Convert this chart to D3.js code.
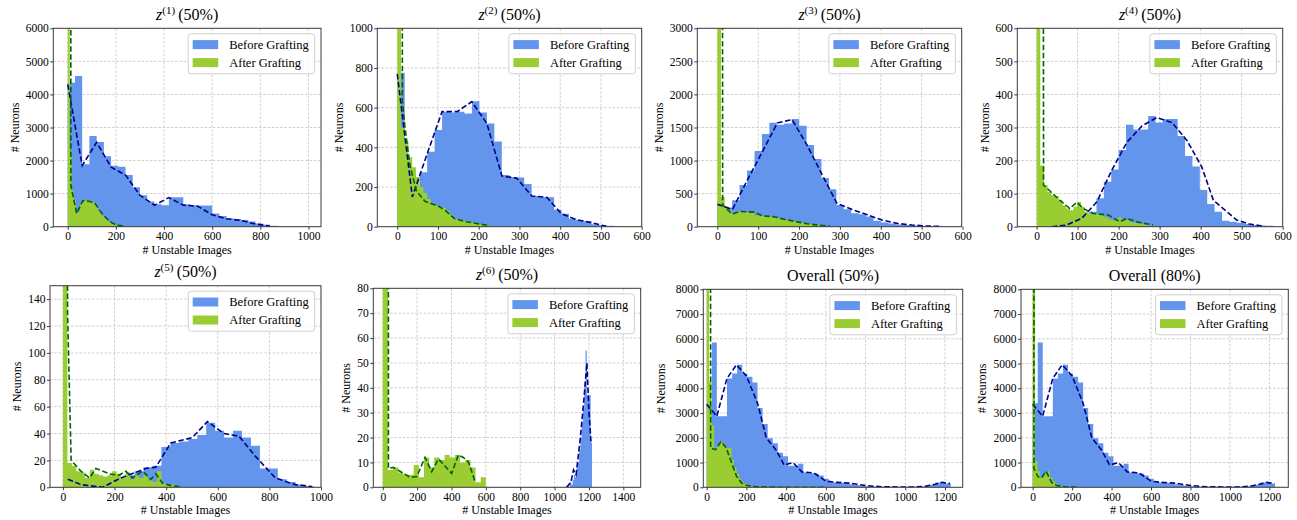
<!DOCTYPE html>
<html><head><meta charset="utf-8">
<script src="https://cdn.jsdelivr.net/npm/d3@7"></script>
<style>
body{margin:0;background:#fff}
svg text{font-family:"Liberation Serif","Times New Roman",serif;fill:#000}
</style>
</head><body>
<svg id="c" width="1297" height="520"></svg>
<script>
// ---------------- DATA ----------------
const seriesNames = ["Before Grafting", "After Grafting"];
const titles = [["z","(1)","(50%)"],["z","(2)","(50%)"],["z","(3)","(50%)"],["z","(4)","(50%)"],
                ["z","(5)","(50%)"],["z","(6)","(50%)"],["Overall (50%)"],["Overall (80%)"]];
const xLabel = "# Unstable Images", yLabel = "# Neurons";

// bins: [first edge, bin width]
const p1BlueBin = [0, 30];
const p1Blue = [4350,4560,1890,2740,2560,2130,1840,1810,1560,1190,950,760,680,650,890,890,680,650,640,640,400,320,250,230,200,160,100,60,30,15];
const p1GreenBin = [0, 8.33];
const p1Green = [30000,2300,1100,800,400,450,650,780,820,780,760,770,760,720,600,480,400,320,260,200,150,110,80,60,40,30,20,10,5];
const p1BlueLine = [[0,4300],[60,1850],[120,2550],[180,1800],[240,1560],[300,950],[360,650],[420,880],[480,650],[540,620],[600,360],[660,240],[720,190],[780,80],[840,20]];
const p1GreenLine = [[11,40000],[13,1250],[37,400],[62,780],[87,770],[112,720],[137,450],[162,250],[187,100],[212,40],[237,10]];

const p2BlueBin = [0, 18.33];
const p2Blue = [776,200,180,275,378,487,580,575,580,570,632,576,520,430,260,250,248,215,155,150,148,85,65,40,33,28,12,8,5,3];
const p2GreenBin = [0, 9.17];
const p2Green = [20000,500,430,350,300,250,200,170,140,120,105,100,95,80,60,40,35,32,28,22,20,15,12,8,6,3];
const p2BlueLine = [[0,770],[37,150],[73,365],[110,580],[147,580],[183,630],[220,520],[257,255],[293,245],[330,155],[367,148],[403,65],[440,35],[477,20],[513,2]];
const p2GreenLine = [[11,20000],[12.5,640],[19,500],[31,310],[47,180],[68,128],[85,115],[100,105],[119,80],[141,40],[170,25],[203,13],[228,5]];

const p3BlueBin = [0, 18.2];
const p3Blue = [330,290,400,630,850,1145,1400,1570,1540,1560,1630,1525,1235,1025,735,565,330,265,205,190,155,90,65,50,35,25,20,12,10,8];
const p3GreenBin = [0, 9.1];
const p3Green = [20000,450,310,240,190,230,225,220,215,210,170,165,165,160,150,135,125,110,100,95,85,70,60,55,45,40,35,25,15,10];
const p3BlueLine = [[0,340],[37,260],[73,700],[110,1130],[147,1570],[183,1620],[220,1230],[257,780],[293,350],[330,260],[367,180],[403,100],[440,50],[477,25],[513,10],[550,5]];
const p3GreenLine = [[11,30000],[13,330],[36,190],[55,230],[90,220],[110,165],[140,150],[165,110],[190,80],[220,45],[250,20],[275,8]];

const p4BlueBin = [2, 18];
const p4Blue = [0,0,2,4,8,15,25,45,86,136,173,232,308,294,294,335,315,326,326,274,214,182,111,69,45,18,15,12,8,5,4,3];
const p4GreenBin = [0, 9];
const p4Green = [20000,185,125,105,95,92,80,65,55,50,60,75,60,45,40,40,38,35,30,25,20,18,28,22,20,15,12,10,8,5,4,3,2];
const p4BlueLine = [[37,0],[73,5],[110,25],[147,75],[183,170],[220,255],[257,305],[293,330],[330,315],[367,260],[403,180],[431,80],[488,20],[520,8],[550,2]];
const p4GreenLine = [[15,3000],[17,126],[57,80],[81,55],[98,74],[114,55],[138,40],[175,35],[203,15],[220,25],[244,15],[284,5]];

const p5BlueBin = [0, 34.7];
const p5Blue = [6,4,1,1,2,4,7,9,12,15,16,30,33,34,36,39,48,42,37,42,37,31,14,14,6,4,2,1];
const p5GreenBin = [0, 17.35];
const p5Green = [300,18,16,12,11,7,13,10,9,8,9,12,10,7,11,6,9,7,9,5,4,12,3,2,2,1];
const p5BlueLine = [[19,6],[70,2],[154,0],[225,7],[322,14],[360,15],[418,33],[502,37],[560,49],[624,40],[682,38],[746,23],[823,7],[900,2],[965,0.5]];
const p5GreenLine = [[13,1000],[18,130],[32,20],[70,12],[103,7],[128,14],[180,10],[218,9],[244,12],[270,7],[309,12],[341,6],[360,10],[386,3],[425,1],[456,0.5]];

const p6BlueBin = [1075, 7.5];
const p6Blue = [1,0,2,1,3,5,4,8,10,15,20,26,32,42,55,37,37,37,18];
const p6GreenBin = [0, 30];
const p6Green = [1000,7,8,6,5,5,9,4,12,8,12,11,13,12,13,10,11,8,2,4];
const p6BlueLine = [[1070,0],[1095,2],[1110,7],[1125,5],[1150,20],[1170,35],[1188,50],[1200,30],[1212,18]];
const p6GreenLine = [[30,1000],[33,7.6],[62,8],[160,4],[198,4.3],[246,12],[285,6.3],[324,11.4],[401,5.6],[440,13],[469,12],[500,10],[537,2.3]];

const overallBlueBin = [0, 25.6];
const overallBlue = [3400,5850,2870,2870,4400,4600,4950,4600,4470,4230,3200,2560,1980,1780,1400,1250,870,870,950,600,570,560,480,350,200,190,180,170,120,90,60,40,30,25,20,20,20,20,20,20,20,25,30,50,100,190,200,150];
const overallBlueLine = [[0,3350],[51,2870],[102,4400],[150,4950],[200,4500],[256,3400],[300,2000],[350,1500],[390,900],[435,1000],[480,620],[540,580],[600,250],[650,200],[720,170],[800,70],[880,20],[960,15],[1040,15],[1100,40],[1150,120],[1185,200],[1225,150]];

const p7GreenBin = [0, 12.5];
const p7Green = [30000,4250,2500,1550,1650,1850,1800,1650,1600,1580,1100,800,550,350,220,140,100,70,50,40,30,25,20,18,15,12,10,10,8,8,6,6,5,5,4,4,3,3,2,2,2,2,1,1,1,1,1,1];
const p7GreenLine = [[18,30000],[20,1580],[45,1520],[72,1850],[98,1600],[125,1000],[150,450],[175,180],[200,80],[250,20],[350,5],[600,2]];

const p8GreenBin = [0, 12.5];
const p8Green = [30000,1050,650,400,480,550,650,400,250,150,90,50,30,20,12,8,5,4,3,2];
const p8GreenLine = [[5,30000],[7,750],[28,420],[45,380],[68,650],[96,200],[122,70],[172,10],[230,2]];

const p1XTicks=[0,200,400,600,800,1000], p1YTicks=[0,1000,2000,3000,4000,5000,6000];
const p2XTicks=[0,100,200,300,400,500,600], p2YTicks=[0,200,400,600,800,1000];
const p3XTicks=[0,100,200,300,400,500,600], p3YTicks=[0,500,1000,1500,2000,2500,3000];
const p4XTicks=[0,100,200,300,400,500,600], p4YTicks=[0,100,200,300,400,500,600];
const p5XTicks=[0,200,400,600,800,1000], p5YTicks=[0,20,40,60,80,100,120,140];
const p6XTicks=[0,200,400,600,800,1000,1200,1400], p6YTicks=[0,10,20,30,40,50,60,70,80];
const p7XTicks=[0,200,400,600,800,1000,1200], p7YTicks=[0,1000,2000,3000,4000,5000,6000,7000,8000];
const p8XTicks=p7XTicks, p8YTicks=p7YTicks;

// ---------------- LAYOUT ----------------
const layout = [
  {l:53.3, r:321,   t:28.3,  b:226.7, xd:[-60,1052], yd:[0,6000]},
  {l:377.3,r:641.7, t:28.3,  b:226.7, xd:[-49,600],  yd:[0,1000]},
  {l:697.3,r:961.7, t:28.3,  b:226.7, xd:[-49,598],  yd:[0,3000]},
  {l:1017.3,r:1282.7,t:28.3, b:226.7, xd:[-47,600],  yd:[0,600]},
  {l:50,   r:321,   t:285.7, b:487.3, xd:[-50,1000], yd:[0,150]},
  {l:373.3,r:640.7, t:288.3, b:487.3, xd:[-55,1501], yd:[0,80]},
  {l:703.3,r:962.7, t:289.3, b:487.3, xd:[-17,1289], yd:[0,8000]},
  {l:1021, r:1288.3,t:289.3, b:487.3, xd:[-59,1296], yd:[0,8000]}
];
const yLabelGap = [11,11,11,11,11,11,15,12];
const panels = [
  {bb:p1BlueBin,b:p1Blue,gb:p1GreenBin,g:p1Green,bl:p1BlueLine,gl:p1GreenLine,xt:p1XTicks,yt:p1YTicks},
  {bb:p2BlueBin,b:p2Blue,gb:p2GreenBin,g:p2Green,bl:p2BlueLine,gl:p2GreenLine,xt:p2XTicks,yt:p2YTicks},
  {bb:p3BlueBin,b:p3Blue,gb:p3GreenBin,g:p3Green,bl:p3BlueLine,gl:p3GreenLine,xt:p3XTicks,yt:p3YTicks},
  {bb:p4BlueBin,b:p4Blue,gb:p4GreenBin,g:p4Green,bl:p4BlueLine,gl:p4GreenLine,xt:p4XTicks,yt:p4YTicks},
  {bb:p5BlueBin,b:p5Blue,gb:p5GreenBin,g:p5Green,bl:p5BlueLine,gl:p5GreenLine,xt:p5XTicks,yt:p5YTicks},
  {bb:p6BlueBin,b:p6Blue,gb:p6GreenBin,g:p6Green,bl:p6BlueLine,gl:p6GreenLine,xt:p6XTicks,yt:p6YTicks},
  {bb:overallBlueBin,b:overallBlue,gb:p7GreenBin,g:p7Green,bl:overallBlueLine,gl:p7GreenLine,xt:p7XTicks,yt:p7YTicks},
  {bb:overallBlueBin,b:overallBlue,gb:p8GreenBin,g:p8Green,bl:overallBlueLine,gl:p8GreenLine,xt:p8XTicks,yt:p8YTicks}
];

const BLUE="#6495ED", GREEN="#9ACD32", BLUE_LINE="#00008B", GREEN_LINE="#006400";
const svg = d3.select("#c");

function histPath(x, y, bin, counts){
  const [s,w] = bin;
  let d = `M${x(s)},${y(0)}`;
  counts.forEach((c,i)=>{ d += `L${x(s+i*w)},${y(c)}L${x(s+(i+1)*w)},${y(c)}`; });
  d += `L${x(s+counts.length*w)},${y(0)}Z`;
  return d;
}

panels.forEach((p,i)=>{
  const L = layout[i];
  const x = d3.scaleLinear().domain(L.xd).range([L.l,L.r]);
  const y = d3.scaleLinear().domain(L.yd).range([L.b,L.t]);
  const g = svg.append("g");
  const cid = "clip"+i;
  svg.append("clipPath").attr("id",cid).append("rect")
     .attr("x",L.l).attr("y",L.t).attr("width",L.r-L.l).attr("height",L.b-L.t);

  // grid
  const grid = g.append("g").attr("clip-path",`url(#${cid})`)
     .attr("stroke","#c4c4c4").attr("stroke-width",0.8).attr("stroke-dasharray","2.6,1.6");
  p.xt.forEach(v=>grid.append("line").attr("x1",x(v)).attr("x2",x(v)).attr("y1",L.t).attr("y2",L.b));
  p.yt.forEach(v=>grid.append("line").attr("x1",L.l).attr("x2",L.r).attr("y1",y(v)).attr("y2",y(v)));

  const plot = g.append("g").attr("clip-path",`url(#${cid})`);
  plot.append("path").attr("d",histPath(x,y,p.bb,p.b)).attr("fill",BLUE);
  plot.append("path").attr("d",histPath(x,y,p.gb,p.g)).attr("fill",GREEN);
  const line = d3.line().x(d=>x(d[0])).y(d=>y(d[1]));
  plot.append("path").attr("d",line(p.bl)).attr("fill","none").attr("stroke",BLUE_LINE)
      .attr("stroke-width",1.6).attr("stroke-dasharray","5.5,2.6");
  plot.append("path").attr("d",line(p.gl)).attr("fill","none").attr("stroke",GREEN_LINE)
      .attr("stroke-width",1.6).attr("stroke-dasharray","5.5,2.6");

  // frame
  g.append("rect").attr("x",L.l).attr("y",L.t).attr("width",L.r-L.l).attr("height",L.b-L.t)
   .attr("fill","none").attr("stroke","#3a3a3a").attr("stroke-width",1);

  // axes
  const xa = g.append("g").attr("transform",`translate(0,${L.b})`)
     .call(d3.axisBottom(x).tickValues(p.xt).tickFormat(d3.format("d")).tickSize(3).tickPadding(2.5));
  const ya = g.append("g").attr("transform",`translate(${L.l},0)`)
     .call(d3.axisLeft(y).tickValues(p.yt).tickFormat(d3.format("d")).tickSize(3).tickPadding(1.5));
  [xa,ya].forEach(a=>{
    a.select(".domain").remove();
    a.attr("font-family",null);
    a.selectAll("text").style("font-size","11.5px").attr("fill","#000");
    a.selectAll("line").attr("stroke","#3a3a3a");
  });
  const bb = ya.node().getBBox();
  g.append("text").attr("transform",`translate(${L.l+bb.x-yLabelGap[i]},${(L.t+L.b)/2}) rotate(-90)`)
   .attr("text-anchor","middle").attr("dominant-baseline","central").style("font-size","12px").text(yLabel);
  g.append("text").attr("x",(L.l+L.r)/2).attr("y",L.b+23).attr("text-anchor","middle")
   .attr("dominant-baseline","central").style("font-size","12px").text(xLabel);

  // title
  const tp = titles[i];
  const t = g.append("text").attr("x",(L.l+L.r)/2).attr("y",L.t-8.5).attr("text-anchor","middle").style("font-size","16px");
  if (tp.length===3){
    t.append("tspan").style("font-style","italic").text(tp[0]);
    t.append("tspan").attr("dy",-6).style("font-size","11px").text(tp[1]);
    t.append("tspan").attr("dy",6).text("\u2009"+tp[2]);
  } else t.text(tp[0]);

  // legend
  const lw=126.5, lh=40, lx=L.r-6.3-lw, ly=L.t+5.5;
  const lg = g.append("g");
  lg.append("rect").attr("x",lx).attr("y",ly).attr("width",lw).attr("height",lh).attr("rx",3)
    .attr("fill","#fff").attr("fill-opacity",0.8).attr("stroke","#d0d0d0").attr("stroke-width",1);
  [BLUE,GREEN].forEach((c,k)=>{
    const cy = ly+10.8+k*18;
    lg.append("rect").attr("x",lx+4.5).attr("y",cy-4.5).attr("width",25.5).attr("height",9).attr("fill",c);
    lg.append("text").attr("x",lx+41).attr("y",cy).attr("dominant-baseline","central")
      .style("font-size","12.5px").text(seriesNames[k]);
  });
});
</script>
</body></html>
